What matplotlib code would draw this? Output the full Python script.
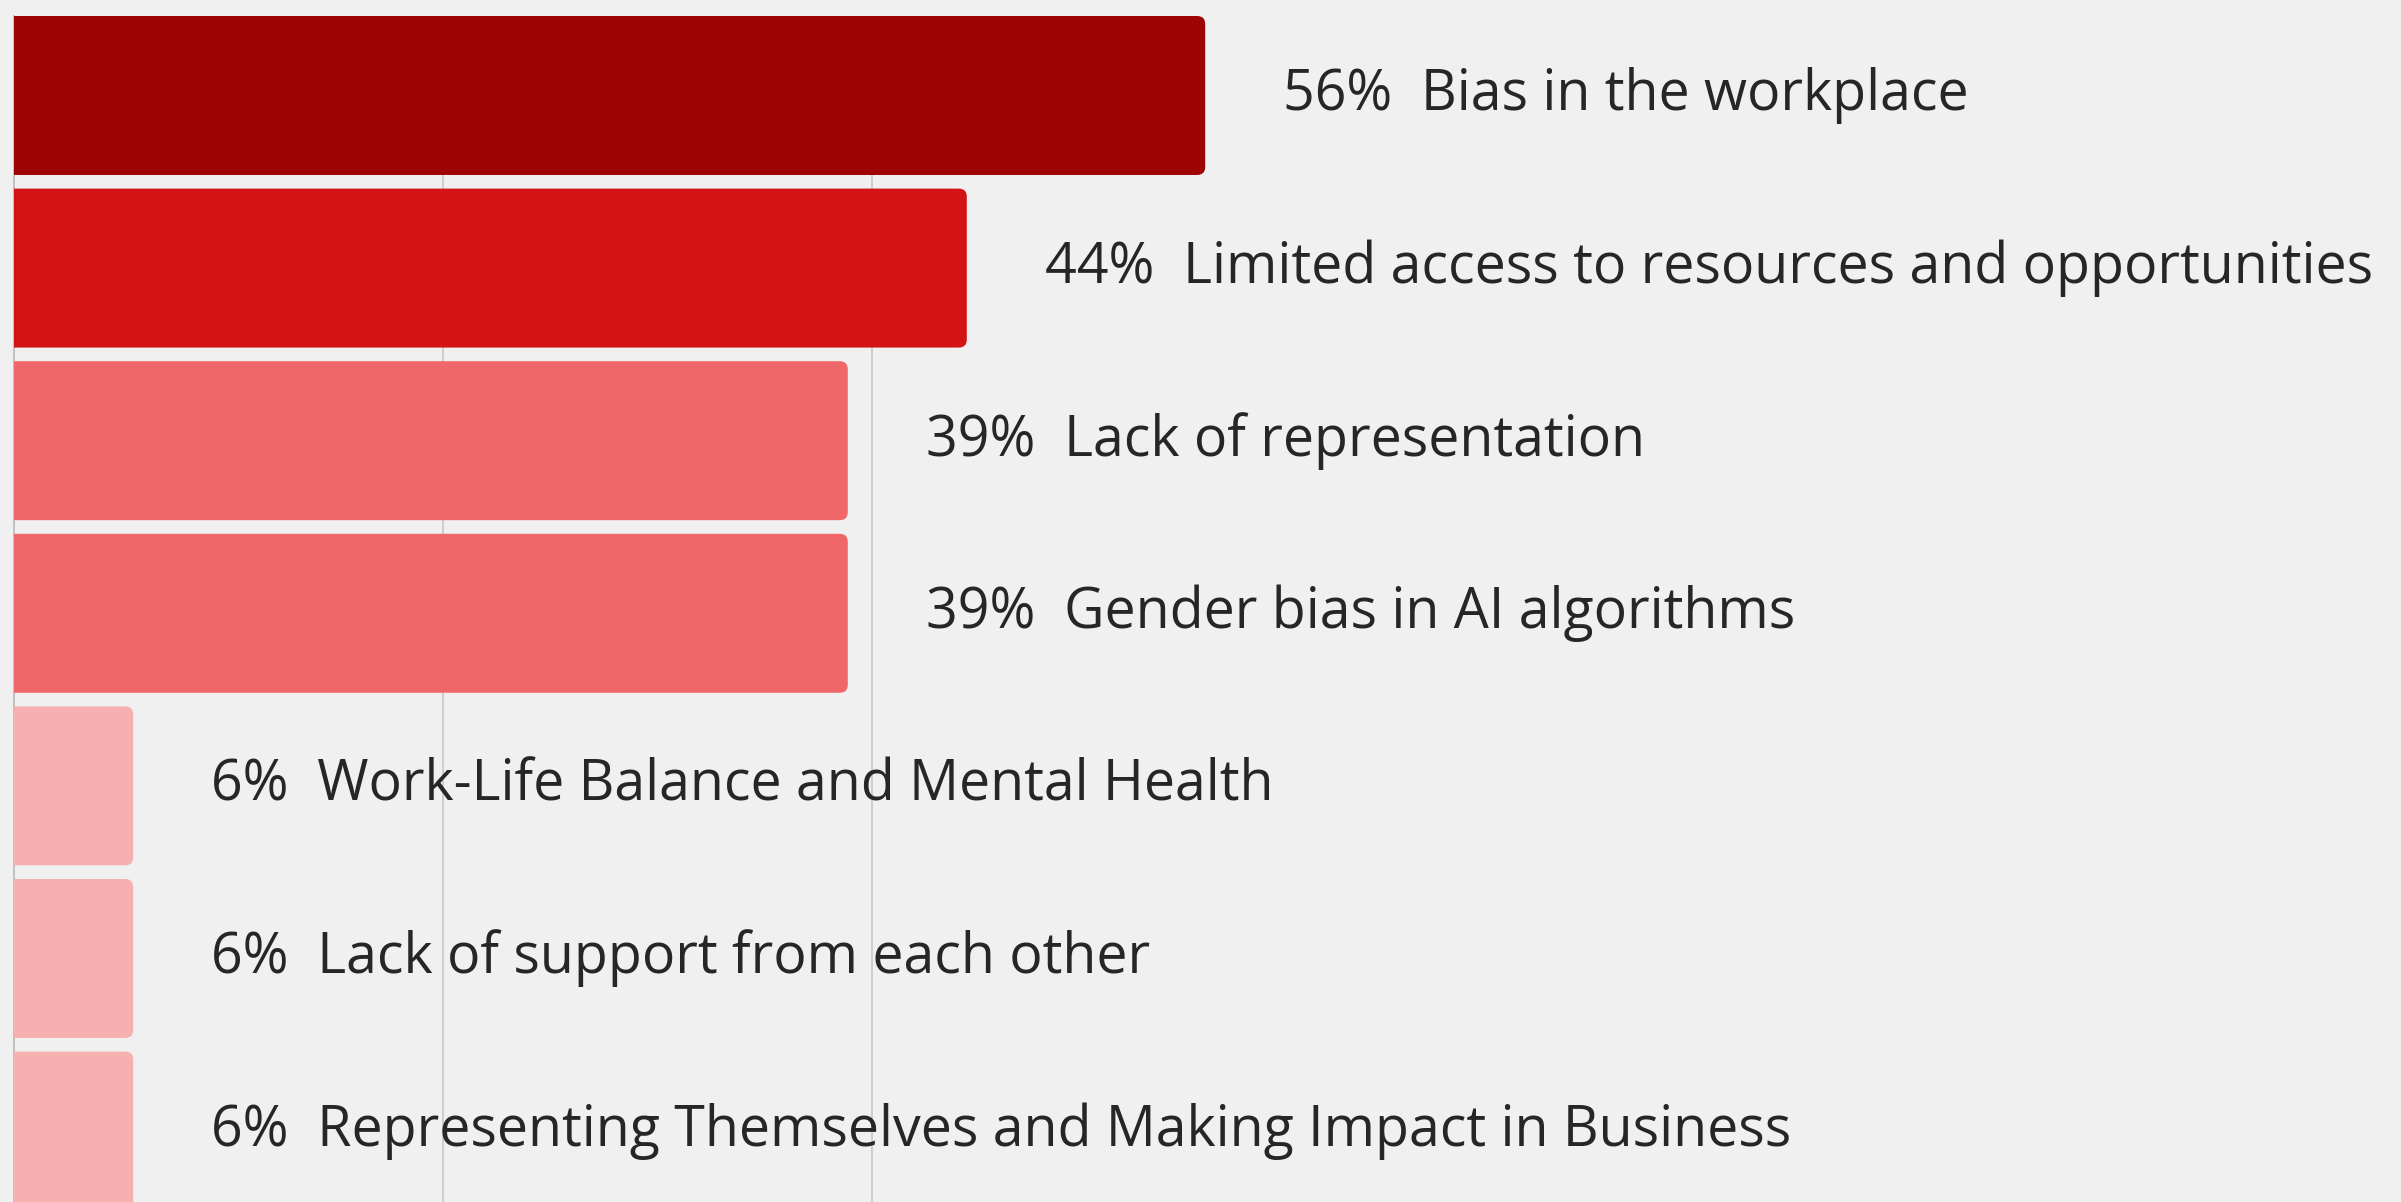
import matplotlib.pyplot as plt
from matplotlib.patches import FancyBboxPatch

# 18 respondents -> shares in percent
categories = [
    "Bias in the workplace",
    "Limited access to resources and opportunities",
    "Lack of representation",
    "Gender bias in AI algorithms",
    "Work-Life Balance and Mental Health",
    "Lack of support from each other",
    "Representing Themselves and Making Impact in Business",
]
values = [55.56, 44.44, 38.89, 38.89, 5.56, 5.56, 5.56]
labels = ["56%", "44%", "39%", "39%", "6%", "6%", "6%"]
colors = ["#9E0404", "#D31414", "#F0676A", "#F0676A", "#F7B0B0", "#F7B0B0", "#F7B0B0"]

bg = "#F0F0F0"
W, H = 2401, 1202
fig = plt.figure(figsize=(W / 100, H / 100), dpi=100, facecolor=bg)
# axes spans 0..60% horizontally, labels run past the right edge
px_per_pct = 21.44
left = 14 / W
right = (14 + 60 * px_per_pct) / W
top = (H - 16) / H
ax = fig.add_axes([left, 0, right - left, top])
ax.set_facecolor(bg)

pitch_px = 172.6
bar_h = 0.921
ax.set_xlim(0, 60)
y_top = -bar_h / 2
y_bot = y_top + (H - 16) / pitch_px
ax.set_ylim(y_bot, y_top)

ypos = list(range(len(values)))
bars = ax.barh(ypos, values, height=bar_h, color=colors, zorder=2)

# rounded right corners (fix aspect so the corners look circular);
# start the patch left of 0 so the axes clip the left corners flat
r_px = 8
rx = r_px / px_per_pct
ry = r_px / pitch_px
for b, c in zip(bars, colors):
    x0, y0 = b.get_x(), b.get_y()
    w, h = b.get_width(), b.get_height()
    p = FancyBboxPatch((x0 - 1, y0), w + 1, h,
                       boxstyle=f"round,pad=0,rounding_size={rx}",
                       mutation_aspect=ry / rx,
                       facecolor=c, edgecolor="none", zorder=2)
    ax.add_patch(p)
    b.set_visible(False)

for y, v, lab, cat in zip(ypos, values, labels, categories):
    ax.annotate(f"{lab}  {cat}", xy=(v, y), xytext=(56, 0),
                textcoords="offset points", va="center", ha="left",
                fontsize=40, family=["Open Sans", "DejaVu Sans"],
                color="#262626", annotation_clip=False, zorder=3)

for g in [20, 40]:
    ax.axvline(g, color="#C8C8C8", linewidth=1.2, zorder=1)

for s in ["top", "right", "bottom"]:
    ax.spines[s].set_visible(False)
ax.spines["left"].set_color("#B8B8B8")
ax.spines["left"].set_linewidth(1.2)
ax.spines["left"].set_zorder(1)
ax.set_xticks([])
ax.set_yticks([])

fig.savefig("out.png", dpi=100, facecolor=bg)
